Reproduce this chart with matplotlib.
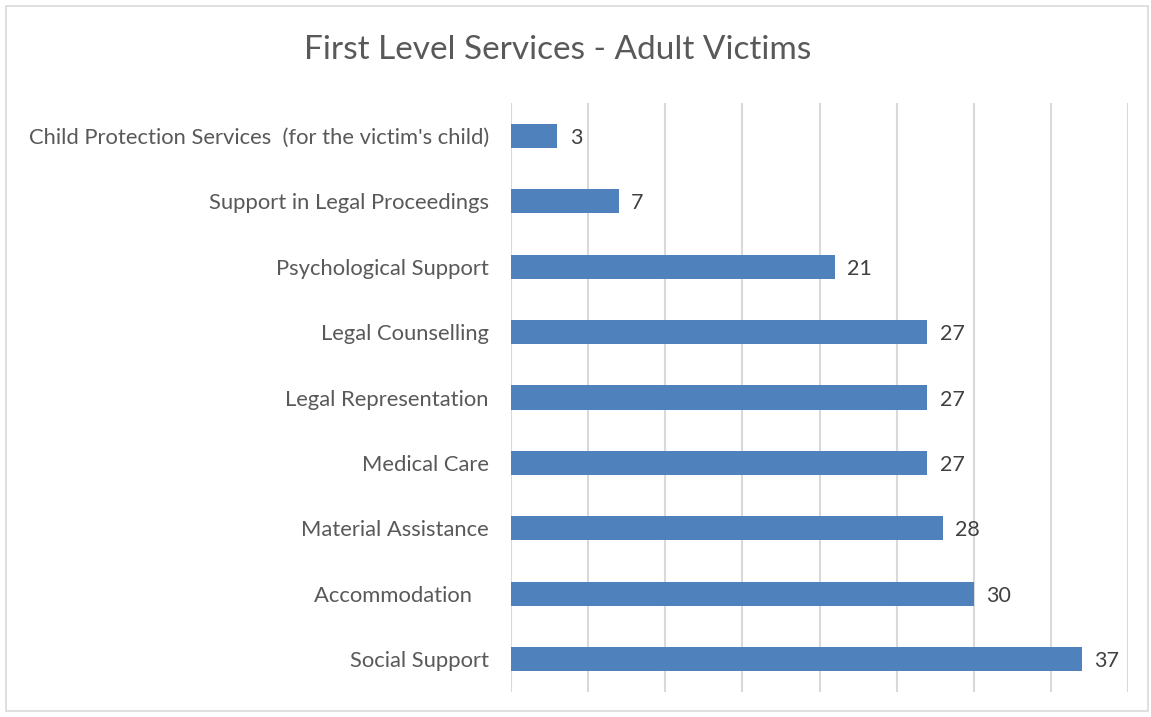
import matplotlib.pyplot as plt
from matplotlib.patches import Rectangle

services = [
    "Social Support",
    "Accommodation   ",
    "Material Assistance",
    "Medical Care",
    "Legal Representation",
    "Legal Counselling",
    "Psychological Support",
    "Support in Legal Proceedings",
    "Child Protection Services  (for the victim's child)",
]
counts = [37, 30, 28, 27, 27, 27, 21, 7, 3]

text_color = "#595959"
plt.rcParams['font.family'] = ['Lato', 'DejaVu Sans']

fig = plt.figure(figsize=(11.51, 7.17), dpi=100)
fig.patches.append(Rectangle((6 / 1151, 6 / 717), 1142 / 1151, 705 / 717,
                             transform=fig.transFigure, fill=False,
                             edgecolor="#d9d9d9", linewidth=1.2))
ax = fig.add_axes([511 / 1151, 25 / 717, 617 / 1151, 589 / 717])

pos = range(len(services))
bars = ax.barh(pos, counts, height=0.37, color="#4f81bd", zorder=3)
for b, v in zip(bars, counts):
    ax.text(b.get_width() + 0.8, b.get_y() + b.get_height() / 2, str(v),
            va="center_baseline", ha="left", fontsize=15.5, color="#404040")

ax.set_xlim(0, 40)
ax.set_ylim(-0.5, len(services) - 0.5)
ax.set_xticks(range(0, 41, 5))
ax.set_xticklabels([])
ax.set_yticks(list(pos))
ax.set_yticklabels(services, fontsize=15.8, color=text_color,
                   va="center_baseline")
ax.tick_params(axis="both", length=0, pad=16)
ax.grid(axis="x", color="#d9d9d9", linewidth=1.5, zorder=0)
for s in ax.spines.values():
    s.set_visible(False)

fig.text(558 / 1151, 1 - 50 / 717, "First Level Services - Adult Victims",
         ha="center", va="center", fontsize=24, color=text_color)

fig.savefig("out.png", dpi=100)
